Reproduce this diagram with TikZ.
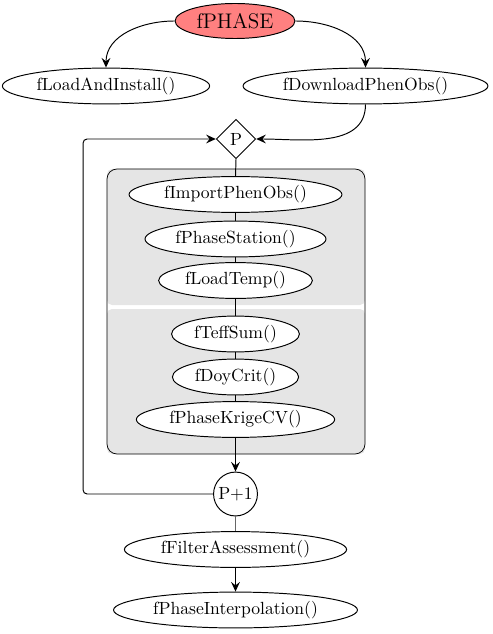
\documentclass[tikz,border=0pt]{standalone}
\usetikzlibrary{shapes.geometric,arrows.meta,backgrounds}
\newdimen\pxu \pxu=0.568pt
\begin{document}
\begin{tikzpicture}[x=0.568pt,y=-0.568pt,line width=0.55pt,
  fn/.style={ellipse,draw,fill=white,inner sep=2.2pt},
  arr/.style={-{Stealth[length=5.5pt,width=5pt,inset=2pt]}},
  grp/.style={fill=gray!20,rounded corners=5\pxu}]
\useasboundingbox (0,0) rectangle (493,634);
\node[fn,fill=red!50,font=\large,minimum height=35\pxu] (phase) at (235,21) {fPHASE};
\node[fn] (load) at (106,86) {fLoadAndInstall()};
\node[fn] (dl) at (365.5,86) {fDownloadPhenObs()};
\node[diamond,draw,fill=white,inner sep=2.2pt] (P) at (236,139) {P};
\node[fn] (imp) at (235.5,194.5) {fImportPhenObs()};
\node[fn] (sta) at (235.5,239) {fPhaseStation()};
\node[fn] (tmp) at (235.5,280.5) {fLoadTemp()};
\node[fn] (teff) at (235.5,334) {fTeffSum()};
\node[fn] (doy) at (235.5,377) {fDoyCrit()};
\node[fn] (kri) at (235.5,419.5) {fPhaseKrigeCV()};
\node[circle,draw,fill=white,inner sep=1.5pt] (p1) at (235.5,494) {P+1};
\node[fn] (filt) at (235.5,549.5) {fFilterAssessment()};
\node[fn] (interp) at (235.5,610) {fPhaseInterpolation()};
\begin{scope}[on background layer]
  \fill[grp] (107,169) rectangle (365,305);
  \fill[grp] (107,309) rectangle (365,454);
  \draw[rounded corners=10\pxu] (107,169) rectangle (365,454);
\end{scope}
\draw[arr] (phase.west) to[out=180,in=90] (load.north);
\draw[arr] (phase.east) to[out=0,in=90] (dl.north);
\draw[arr] (dl.south) to[out=-90,in=0] (P.east);
\draw (P.south) -- (imp.north);
\draw (imp.south) -- (sta.north);
\draw (sta.south) -- (tmp.north);
\draw (tmp.south) -- (teff.north);
\draw (teff.south) -- (doy.north);
\draw (doy.south) -- (kri.north);
\draw[arr] (kri.south) -- (p1.north);
\draw[arr,rounded corners=4\pxu] (p1.west) -- ++(-130,0) |- (P.west);
\draw[black!60] (p1.south) -- (filt.north);
\draw[arr] (filt.south) -- (interp.north);
\end{tikzpicture}
\end{document}
